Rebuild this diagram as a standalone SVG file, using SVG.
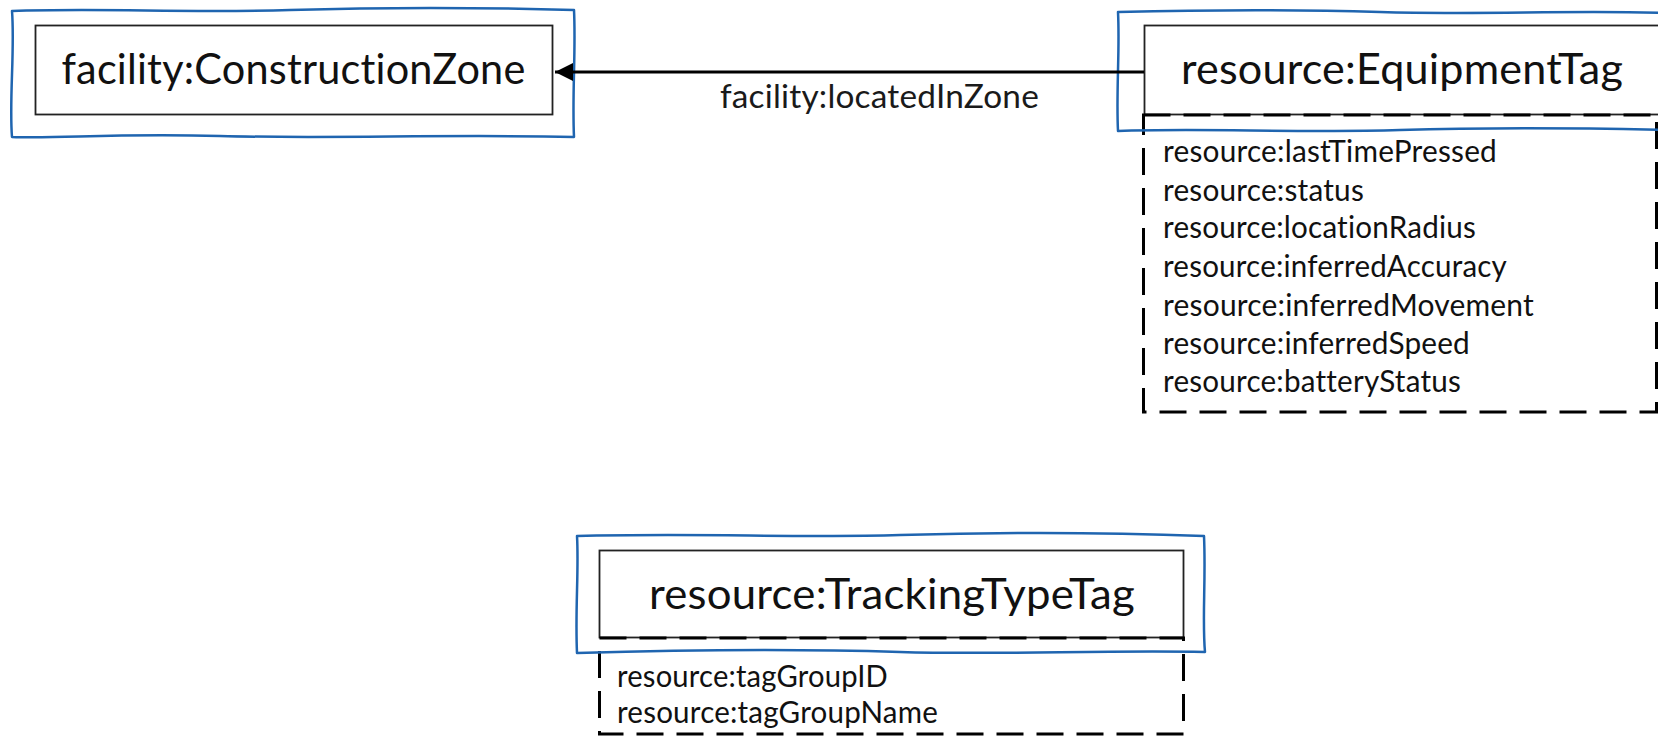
<svg xmlns="http://www.w3.org/2000/svg" width="1658" height="737" viewBox="0 0 1658 737">
<style>
.bg{fill:#ffffff}
.sketch{fill:none;stroke:#1f65b0;stroke-width:2.5;stroke-linejoin:round;stroke-linecap:round}
.box{fill:#ffffff;stroke:#222222;stroke-width:1.8}
.attrs{fill:none;stroke:#000000;stroke-width:3;stroke-dasharray:27 13}
text{font-variant-ligatures:none;font-feature-settings:"liga" 0,"clig" 0;letter-spacing:0.2px}
.title{font-family:Lato,"Open Sans",sans-serif;font-size:42px;fill:#111111}
.attr{font-family:Lato,"Open Sans",sans-serif;font-size:30px;fill:#111111}
.label{font-family:Lato,"Open Sans",sans-serif;font-size:33px;fill:#1a1a1a}
.edge{stroke:#000000;stroke-width:3;fill:none}
</style>
<defs>
<marker id="arrow" viewBox="0 0 10 10" refX="10" refY="5" markerWidth="7" markerHeight="6" markerUnits="strokeWidth" orient="auto">
<path d="M0,0 L10,5 L0,10 Z" fill="#000000"/>
</marker>
</defs>
<rect class="bg" x="0" y="0" width="1658" height="737"/>

<g id="node-constructionzone">
<rect class="box" x="35.5" y="25.5" width="517" height="89"/>
<text class="title" x="293.5" y="84" text-anchor="middle" textLength="464" lengthAdjust="spacingAndGlyphs">facility:ConstructionZone</text>
<path class="sketch" d="M12,11 C100,8 190,13 290,10 S470,7 574,10 C576,50 572,95 574,137 C450,134 330,139 220,136 S60,139 12,137 C9,100 15,50 12,11 Z"/>
</g>

<g id="node-equipmenttag">
<rect class="box" x="1144.5" y="25.5" width="515" height="89"/>
<rect class="attrs" x="1143.5" y="115" width="513" height="297"/>
<text class="title" x="1402" y="84" text-anchor="middle" textLength="442" lengthAdjust="spacingAndGlyphs">resource:EquipmentTag</text>
<text class="attr" x="1163" y="162" textLength="334" lengthAdjust="spacingAndGlyphs">resource:lastTimePressed</text>
<text class="attr" x="1163" y="201" textLength="201" lengthAdjust="spacingAndGlyphs">resource:status</text>
<text class="attr" x="1163" y="238" textLength="313" lengthAdjust="spacingAndGlyphs">resource:locationRadius</text>
<text class="attr" x="1163" y="277" textLength="344" lengthAdjust="spacingAndGlyphs">resource:inferredAccuracy</text>
<text class="attr" x="1163" y="316" textLength="371" lengthAdjust="spacingAndGlyphs">resource:inferredMovement</text>
<text class="attr" x="1163" y="354" textLength="307" lengthAdjust="spacingAndGlyphs">resource:inferredSpeed</text>
<text class="attr" x="1163" y="392" textLength="298" lengthAdjust="spacingAndGlyphs">resource:batteryStatus</text>
<path class="sketch" d="M1670,13 C1570,10 1480,15 1380,12 S1200,10 1118,12 C1120,50 1116,92 1118,131 C1200,128 1300,133 1400,130 S1580,128 1670,130"/>
</g>

<g id="node-trackingtypetag">
<rect class="box" x="599.5" y="550.5" width="584" height="87"/>
<rect class="attrs" x="599.5" y="638" width="584" height="96"/>
<text class="title" x="892" y="609" text-anchor="middle" textLength="486" lengthAdjust="spacingAndGlyphs">resource:TrackingTypeTag</text>
<text class="attr" x="617" y="687" textLength="271" lengthAdjust="spacingAndGlyphs">resource:tagGroupID</text>
<text class="attr" x="617" y="723" textLength="321" lengthAdjust="spacingAndGlyphs">resource:tagGroupName</text>
<path class="sketch" d="M577,536 C700,533 800,538 900,535 S1100,532 1204,536 C1206,580 1202,620 1205,652 C1100,650 1000,655 900,652 S680,650 577,653 C575,610 579,570 577,536 Z"/>
</g>

<g id="connectors">
<line class="edge" x1="1144" y1="72" x2="555" y2="72" marker-end="url(#arrow)"/>
<text class="label" x="720" y="108" textLength="319" lengthAdjust="spacingAndGlyphs">facility:locatedInZone</text>
</g>
</svg>
